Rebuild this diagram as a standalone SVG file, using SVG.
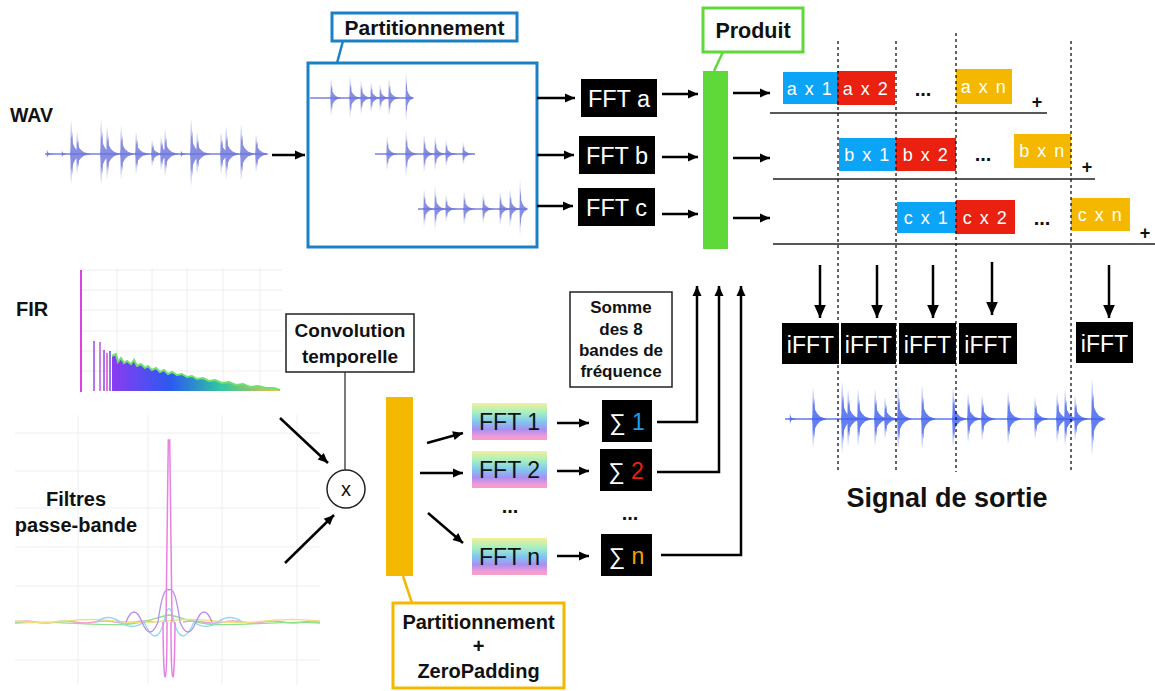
<svg xmlns="http://www.w3.org/2000/svg" xmlns:xlink="http://www.w3.org/1999/xlink" width="1155" height="691" viewBox="0 0 1155 691">
<style>
text{font-family:"Liberation Sans",Arial,Helvetica,sans-serif}
.b{font-weight:bold;fill:#111}
.w{fill:#fff}
.c{text-anchor:middle}
.ar{stroke:#000;stroke-width:2.5;fill:none;marker-end:url(#ah)}
.arb{stroke:#000;stroke-width:2.5;fill:none;marker-end:url(#ahb)}
.ln{stroke:#000;stroke-width:2.5;fill:none}
.ul{stroke:#222;stroke-width:1.5}
.dash{stroke:#111;stroke-width:1.3;stroke-dasharray:3 3}
.wv{fill:#6b72dc;opacity:.8}
.wo{fill:#3e5ff0;opacity:.8}
.grid{stroke:#eee;stroke-width:1;fill:none}
.blk{fill:#000}
.pb{fill:#0ba4f7}
.pr{fill:#ea2010}
.po{fill:#f5b800}
.pt{font-size:18px;fill:#fff;text-anchor:middle;letter-spacing:1.5px}
.dots{font-size:20px;font-weight:bold;fill:#111;text-anchor:middle}
.plus{font-size:18px;font-weight:bold;fill:#111;text-anchor:middle}
.box{fill:#fff;stroke:#222;stroke-width:1.5}
</style>
<defs>
<marker id="ah" viewBox="0 0 10 10" refX="10" refY="5" markerUnits="userSpaceOnUse" markerWidth="11" markerHeight="10" orient="auto"><path d="M0,0.5 L10,5 L0,9.5 z" fill="#000"/></marker>
<marker id="ahb" viewBox="0 0 10 10" refX="10" refY="5" markerUnits="userSpaceOnUse" markerWidth="14" markerHeight="13" orient="auto"><path d="M0,0.5 L10,5 L0,9.5 z" fill="#000"/></marker>
<path id="sp" d="M-1,0 L-0.6,-0.15 L0,-1 L0.7,-0.45 L1.3,-0.65 L2,-0.3 L4,-0.18 L7,-0.08 L11,-0.03 L14,0 L11,0.03 L7,0.08 L4,0.18 L2,0.3 L1.3,0.6 L0.7,0.4 L0,0.9 L-0.6,0.15 Z"/>
<linearGradient id="rb" x1="0" y1="0" x2="0" y2="1">
<stop offset="0" stop-color="#f3ef9a"/><stop offset="0.25" stop-color="#a8f0c0"/><stop offset="0.5" stop-color="#80c8f0"/><stop offset="0.72" stop-color="#a890f0"/><stop offset="0.9" stop-color="#f29ad8"/><stop offset="1" stop-color="#f5a0c0"/>
</linearGradient>
<linearGradient id="fir" x1="0" y1="0" x2="1" y2="0">
<stop offset="0" stop-color="#8a3cf0"/><stop offset="0.35" stop-color="#2a5af0"/><stop offset="0.65" stop-color="#30c8a0"/><stop offset="1" stop-color="#f0c040"/>
</linearGradient>
</defs>

<g id="wav">
<text class="b" x="10" y="122" font-size="19.5">WAV</text>
<line x1="45" y1="154" x2="267" y2="154" stroke="#7a80e0" stroke-width="1.5"/>
<g class="wv">
<use xlink:href="#sp" transform="translate(47,154) scale(0.5,5)"/>
<use xlink:href="#sp" transform="translate(62,154) scale(0.5,4)"/>
<use xlink:href="#sp" transform="translate(71,154) scale(1,34)"/>
<use xlink:href="#sp" transform="translate(77,154) scale(1,22)"/>
<use xlink:href="#sp" transform="translate(101,154) scale(1,34)"/>
<use xlink:href="#sp" transform="translate(107,154) scale(1,28)"/>
<use xlink:href="#sp" transform="translate(121,154) scale(1,28)"/>
<use xlink:href="#sp" transform="translate(136,154) scale(1,22)"/>
<use xlink:href="#sp" transform="translate(152,154) scale(1,14)"/>
<use xlink:href="#sp" transform="translate(161,154) scale(1,18)"/>
<use xlink:href="#sp" transform="translate(165,154) scale(1,25)"/>
<use xlink:href="#sp" transform="translate(181,154) scale(0.6,4)"/>
<use xlink:href="#sp" transform="translate(191,154) scale(1,36)"/>
<use xlink:href="#sp" transform="translate(197,154) scale(1,22)"/>
<use xlink:href="#sp" transform="translate(221,154) scale(1,22)"/>
<use xlink:href="#sp" transform="translate(226,154) scale(1,28)"/>
<use xlink:href="#sp" transform="translate(241,154) scale(1,30)"/>
<use xlink:href="#sp" transform="translate(256,154) scale(1,20)"/>
</g>
</g>

<g id="partition">
<rect x="308" y="63" width="229" height="184" fill="#fff" stroke="#1b80c4" stroke-width="3"/>
<line x1="310" y1="98" x2="413" y2="98" stroke="#7a80e0" stroke-width="1.5"/>
<line x1="375" y1="154" x2="475" y2="154" stroke="#7a80e0" stroke-width="1.5"/>
<line x1="418" y1="209" x2="527" y2="209" stroke="#7a80e0" stroke-width="1.5"/>
<g class="wv">
<use xlink:href="#sp" transform="translate(331,98) scale(0.8,20)"/>
<use xlink:href="#sp" transform="translate(350,98) scale(0.8,22)"/>
<use xlink:href="#sp" transform="translate(361,98) scale(0.8,18)"/>
<use xlink:href="#sp" transform="translate(371,98) scale(0.8,16)"/>
<use xlink:href="#sp" transform="translate(380,98) scale(0.8,14)"/>
<use xlink:href="#sp" transform="translate(389,98) scale(0.8,20)"/>
<use xlink:href="#sp" transform="translate(406,98) scale(0.6,26)"/>
<use xlink:href="#sp" transform="translate(387,154) scale(0.8,18)"/>
<use xlink:href="#sp" transform="translate(406,154) scale(0.8,24)"/>
<use xlink:href="#sp" transform="translate(424,154) scale(0.8,20)"/>
<use xlink:href="#sp" transform="translate(435,154) scale(0.8,18)"/>
<use xlink:href="#sp" transform="translate(446,154) scale(0.8,14)"/>
<use xlink:href="#sp" transform="translate(463,154) scale(0.8,12)"/>
<use xlink:href="#sp" transform="translate(424,209) scale(0.8,20)"/>
<use xlink:href="#sp" transform="translate(435,209) scale(0.8,22)"/>
<use xlink:href="#sp" transform="translate(446,209) scale(0.8,14)"/>
<use xlink:href="#sp" transform="translate(464,209) scale(0.8,18)"/>
<use xlink:href="#sp" transform="translate(483,209) scale(0.8,16)"/>
<use xlink:href="#sp" transform="translate(500,209) scale(0.8,18)"/>
<use xlink:href="#sp" transform="translate(510,209) scale(0.8,20)"/>
<use xlink:href="#sp" transform="translate(520,209) scale(0.6,30)"/>
</g>
</g>

<g id="label-partitionnement">
<rect x="332" y="13" width="185" height="28" fill="#fff" stroke="#1b80c4" stroke-width="3"/>
<text class="b c" x="424.5" y="35" font-size="21">Partitionnement</text>
</g>

<g id="fft-a"><rect class="blk" x="581" y="79" width="76" height="38"/><text class="w c" x="619" y="107" font-size="23.5">FFT a</text></g>
<g id="fft-b"><rect class="blk" x="579" y="136" width="76" height="38"/><text class="w c" x="617" y="164" font-size="23.5">FFT b</text></g>
<g id="fft-c"><rect class="blk" x="578" y="188" width="77" height="38"/><text class="w c" x="616.5" y="216" font-size="23.5">FFT c</text></g>

<g id="produit-bar"><rect x="703" y="71" width="25" height="178" fill="#5fd83a"/></g>
<g id="label-produit">
<rect x="703" y="8" width="100" height="44" fill="#fff" stroke="#5fd83a" stroke-width="3"/>
<text class="b c" x="753" y="38" font-size="21.5">Produit</text>
</g>

<g id="row-a">
<rect class="pb" x="783" y="72" width="54" height="32"/><text class="pt" x="810" y="95">a x 1</text>
<rect class="pr" x="837" y="71" width="58" height="34"/><text class="pt" x="866" y="95">a x 2</text>
<text class="dots" x="923" y="96">...</text>
<rect class="po" x="956" y="69" width="56" height="35"/><text class="pt" x="984" y="93">a x n</text>
<text class="plus" x="1037" y="108">+</text>
</g>
<g id="row-b">
<rect class="pb" x="839" y="138" width="57" height="33"/><text class="pt" x="867.5" y="161">b x 1</text>
<rect class="pr" x="896" y="138" width="60" height="33"/><text class="pt" x="926" y="161">b x 2</text>
<text class="dots" x="983" y="161">...</text>
<rect class="po" x="1014" y="134" width="57" height="34"/><text class="pt" x="1042.5" y="157">b x n</text>
<text class="plus" x="1087" y="173">+</text>
</g>
<g id="row-c">
<rect class="pb" x="897" y="202" width="59" height="31"/><text class="pt" x="926.5" y="224">c x 1</text>
<rect class="pr" x="956" y="200" width="59" height="34"/><text class="pt" x="985.5" y="224">c x 2</text>
<text class="dots" x="1042" y="225">...</text>
<rect class="po" x="1071" y="198" width="59" height="33"/><text class="pt" x="1100.5" y="221">c x n</text>
<text class="plus" x="1145" y="239">+</text>
</g>

<g id="ifft">
<rect class="blk" x="782" y="323" width="57" height="41"/><text class="w c" x="810.5" y="353" font-size="23">iFFT</text>
<rect class="blk" x="841" y="323" width="55" height="41"/><text class="w c" x="868.5" y="353" font-size="23">iFFT</text>
<rect class="blk" x="899" y="323" width="57" height="41"/><text class="w c" x="927.5" y="353" font-size="23">iFFT</text>
<rect class="blk" x="959" y="323" width="58" height="41"/><text class="w c" x="988" y="353" font-size="23">iFFT</text>
<rect class="blk" x="1076" y="322" width="57" height="41"/><text class="w c" x="1104.5" y="352" font-size="23">iFFT</text>
</g>

<g id="output">
<line x1="785" y1="419" x2="1103" y2="419" stroke="#5a78f0" stroke-width="1.5"/>
<g class="wo">
<use xlink:href="#sp" transform="translate(790,419) scale(0.5,6)"/>
<use xlink:href="#sp" transform="translate(813,419) scale(1,32)"/>
<use xlink:href="#sp" transform="translate(842,419) scale(1,38)"/>
<use xlink:href="#sp" transform="translate(848,419) scale(1,30)"/>
<use xlink:href="#sp" transform="translate(858,419) scale(1,30)"/>
<use xlink:href="#sp" transform="translate(875,419) scale(1,30)"/>
<use xlink:href="#sp" transform="translate(885,419) scale(1,22)"/>
<use xlink:href="#sp" transform="translate(898,419) scale(1,34)"/>
<use xlink:href="#sp" transform="translate(922,419) scale(1,34)"/>
<use xlink:href="#sp" transform="translate(953,419) scale(1,32)"/>
<use xlink:href="#sp" transform="translate(968,419) scale(1,26)"/>
<use xlink:href="#sp" transform="translate(982,419) scale(1,24)"/>
<use xlink:href="#sp" transform="translate(1008,419) scale(1,28)"/>
<use xlink:href="#sp" transform="translate(1035,419) scale(1,22)"/>
<use xlink:href="#sp" transform="translate(1057,419) scale(1,26)"/>
<use xlink:href="#sp" transform="translate(1065,419) scale(1,30)"/>
<use xlink:href="#sp" transform="translate(1075,419) scale(1,24)"/>
<use xlink:href="#sp" transform="translate(1092,419) scale(1,40)"/>
</g>
<text class="b c" x="947" y="507" font-size="27">Signal de sortie</text>
</g>

<g id="fir">
<text class="b" x="16" y="316" font-size="20">FIR</text>
<path class="grid" d="M117,268V392M152,268V392M187,268V392M223,268V392M260,268V392M80,270H282M80,290H282M80,310H282M80,331H282M80,351H282M80,371H282"/>
<line x1="81" y1="270" x2="81" y2="392" stroke="#e040e0" stroke-width="2"/>
<g stroke-width="1.6">
<line x1="94" y1="341" x2="94" y2="391" stroke="#a050f0"/>
<line x1="100" y1="342" x2="100" y2="391" stroke="#c060e8"/>
<line x1="104" y1="350" x2="104" y2="391" stroke="#9050f0"/>
<line x1="107" y1="353" x2="107" y2="391" stroke="#e050d0"/>
<line x1="110" y1="351" x2="110" y2="391" stroke="#7050f0"/>
</g>
<polygon fill="url(#fir)" points="112,391 112,356 116,354 118,362 121,358 124,363 127,361 131,364 134,360 137,366 141,364 145,368 148,366 152,370 156,368 160,372 164,370 168,374 172,372 177,375 182,374 187,377 192,376 197,379 203,378 209,381 215,380 222,383 229,382 236,385 243,384 250,387 258,386 266,388 274,388 280,390 280,391"/>
<polyline fill="none" stroke="#70e070" stroke-width="2" points="112,356 116,354 118,362 121,358 124,363 127,361 131,364 134,360 137,366 141,364 145,368 148,366 152,370 156,368 160,372 164,370 168,374 172,372 177,375 182,374 187,377 192,376 197,379 203,378 209,381 215,380 222,383 229,382 236,385 243,384 250,387 258,386 266,388 274,388 280,390"/>
</g>

<g id="filtres">
<path class="grid" d="M78,415V685M148,415V685M222,415V685M297,415V685M15,433H320M15,471H320M15,508H320M15,547H320M15,586H320M15,660H320"/>
<text class="b c" x="76" y="506" font-size="20">Filtres</text>
<text class="b c" x="76" y="532" font-size="20">passe-bande</text>
<g fill="none" stroke-width="1.3">
<path stroke="#f0a0d0" d="M15,622 Q25,620 35,622 T55,622 T75,622 T95,622 T115,622 T135,622 T155,622 M183,622 Q193,620 203,622 T223,622 T243,622 T263,622 T283,622 T303,622 T320,622"/>
<path stroke="#8ee08e" d="M15,623 C60,620 100,627 130,624 C150,622 160,616 169,615 C178,616 188,622 208,624 C238,627 280,620 320,623"/>
<path stroke="#f0e080" d="M15,621 Q40,624 65,621 T115,621 T165,621 T215,621 T265,621 T320,621"/>
<path stroke="#90d8f5" d="M96,622 Q108,613 120,622 T144,622 M194,622 Q206,631 218,622 T242,622 M144,622 Q156,650 164,622 Q169,595 174,622 Q182,650 194,622"/>
<path stroke="#b890ec" d="M126,622 Q134,602 142,622 Q150,642 158,622 Q163,585 169,590 Q175,585 180,622 Q188,642 196,622 Q204,602 212,622"/>
<path stroke="#ea80e0" stroke-width="1.5" d="M166,622 L168.3,440 L169.7,440 L172,622 M163,622 C163.5,700 167,690 167,622 M171,622 C171,690 174.5,700 175,622"/>
</g>
</g>

<g id="convolution">
<rect class="box" x="286" y="314" width="128" height="58"/>
<text class="b c" x="350" y="337" font-size="19">Convolution</text>
<text class="b c" x="350" y="363" font-size="19">temporelle</text>
</g>
<g id="multiply">
<circle cx="346" cy="489" r="19" fill="#fff" stroke="#222" stroke-width="1.5"/>
<text class="c" x="346" y="496" font-size="20" fill="#111">x</text>
</g>

<g id="zeropad-bar"><rect x="386" y="397" width="27" height="179" fill="#f5b800"/></g>
<g id="label-zeropad">
<rect x="393" y="603" width="171" height="85" fill="#fff" stroke="#f5b800" stroke-width="3"/>
<text class="b c" x="478.5" y="629" font-size="20">Partitionnement</text>
<text class="b c" x="478.5" y="653" font-size="20">+</text>
<text class="b c" x="478.5" y="678" font-size="20">ZeroPadding</text>
</g>

<g id="fft-bands">
<rect x="472" y="403" width="75" height="37" fill="url(#rb)"/><text class="c" x="509.5" y="430" font-size="23" fill="#111">FFT 1</text>
<rect x="472" y="451" width="75" height="37" fill="url(#rb)"/><text class="c" x="509.5" y="478" font-size="23" fill="#111">FFT 2</text>
<text class="dots" x="510" y="513">...</text>
<rect x="472" y="538" width="75" height="37" fill="url(#rb)"/><text class="c" x="509.5" y="565" font-size="23" fill="#111">FFT n</text>
</g>

<g id="sums">
<rect class="blk" x="602" y="400" width="50" height="42"/><text class="w c" x="627" y="430" font-size="23">∑ <tspan fill="#19a0f5">1</tspan></text>
<rect class="blk" x="600" y="449" width="52" height="42"/><text class="w c" x="626" y="479" font-size="23">∑ <tspan fill="#ea2010">2</tspan></text>
<text class="dots" x="630" y="520">...</text>
<rect class="blk" x="601" y="534" width="51" height="42"/><text class="w c" x="626.5" y="564" font-size="23">∑ <tspan fill="#f5a000">n</tspan></text>
</g>

<g id="somme-label">
<rect class="box" x="570" y="292" width="102" height="95"/>
<text class="b c" x="621" y="313" font-size="17">Somme</text>
<text class="b c" x="621" y="335" font-size="17">des 8</text>
<text class="b c" x="621" y="356" font-size="17">bandes de</text>
<text class="b c" x="621" y="377" font-size="17">fréquence</text>
</g>

<g id="connectors">
<path class="ar" d="M272,155 H305"/>
<path class="ar" d="M537,98 H575"/>
<path class="ar" d="M537,155 H574"/>
<path class="ar" d="M537,206 H573"/>
<path class="ar" d="M662,94 H698"/>
<path class="ar" d="M662,157 H698"/>
<path class="ar" d="M662,214 H698"/>
<path class="ar" d="M733,93 H770"/>
<path class="ar" d="M733,158 H770"/>
<path class="ar" d="M733,218 H770"/>
<path class="ul" d="M770,113 H1047 M773,179 H1095 M773,244 H1155"/>
<path class="arb" d="M820,265 V318"/>
<path class="arb" d="M877,265 V318"/>
<path class="arb" d="M933,265 V318"/>
<path class="arb" d="M992,262 V315"/>
<path class="arb" d="M1109,265 V318"/>
<path class="dash" d="M838,41 V472 M896,41 V472 M956,33 V472 M1071,41 V472"/>
<path class="ar" d="M280,418 L328,463"/>
<path class="ar" d="M285,563 L334,515"/>
<path d="M345,372 V470" stroke="#333" stroke-width="1.3"/>
<path class="ar" d="M427,443 L463,433"/>
<path class="ar" d="M420,473 H463"/>
<path class="ar" d="M428,513 L463,543"/>
<path class="ar" d="M557,423 H589"/>
<path class="ar" d="M557,471 H589"/>
<path class="ar" d="M557,556 H589"/>
<path class="ar" d="M657,422 H697 V286"/>
<path class="ar" d="M657,472 H719 V286"/>
<path class="ar" d="M661,555 H741 V286"/>
<path d="M343,41 L337,63" stroke="#1b80c4" stroke-width="2.5"/>
<path d="M723,52 L714,71" stroke="#5fd83a" stroke-width="2.5"/>
<path d="M403,576 L412,603" stroke="#f5b800" stroke-width="2.5"/>
</g>
</svg>
